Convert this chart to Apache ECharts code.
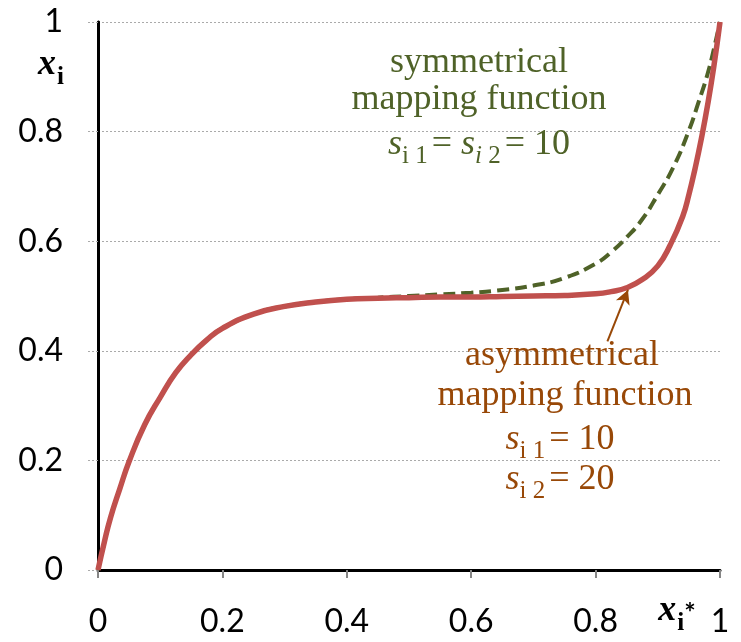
<!DOCTYPE html>
<html>
<head>
<meta charset="utf-8">
<script src="https://cdn.jsdelivr.net/npm/echarts@6/dist/echarts.min.js"></script>
<style>
  html, body { margin: 0; padding: 0; background: #fff; }
  #main { width: 741px; height: 642px; }
</style>
</head>
<body>
<div id="main"></div>
<script>
const xTicks = [0, 0.2, 0.4, 0.6, 0.8, 1];
const yTicks = [0, 0.2, 0.4, 0.6, 0.8, 1];

// asymmetrical mapping function (s_i1 = 10, s_i2 = 20)
const redX = [0, 0.01, 0.02, 0.035, 0.05, 0.075, 0.1, 0.125, 0.15, 0.175, 0.2, 0.25, 0.3, 0.35, 0.4, 0.45, 0.5,
  0.55, 0.6, 0.65, 0.7, 0.75, 0.8, 0.825, 0.85, 0.875, 0.9, 0.92, 0.94, 0.95, 0.96, 0.97, 0.98, 0.99, 1];
const redY = [0, 0.05, 0.095, 0.148, 0.198, 0.265, 0.315, 0.36, 0.393, 0.42, 0.441, 0.467, 0.481, 0.489, 0.494, 0.496, 0.497,
  0.498, 0.498, 0.499, 0.5, 0.501, 0.504, 0.508, 0.515, 0.53, 0.555, 0.593, 0.645, 0.685, 0.733, 0.787, 0.848, 0.918, 1];

// symmetrical mapping function (s_i1 = s_i2 = 10)
const greenX = [0, 0.01, 0.02, 0.035, 0.05, 0.075, 0.1, 0.125, 0.15, 0.175, 0.2, 0.25, 0.3, 0.35, 0.4, 0.45, 0.5,
  0.55, 0.6, 0.65, 0.7, 0.75, 0.8, 0.825, 0.85, 0.875, 0.9, 0.925, 0.95, 0.965, 0.98, 0.99, 1];
const greenY = [0, 0.05, 0.095, 0.148, 0.198, 0.265, 0.315, 0.36, 0.393, 0.42, 0.441, 0.467, 0.481, 0.489, 0.494, 0.497, 0.5,
  0.503, 0.506, 0.511, 0.519, 0.533, 0.559, 0.58, 0.607, 0.64, 0.685, 0.735, 0.802, 0.852, 0.905, 0.95, 1];

const arrowFrom = [0.819, 0.417];
const arrowTo = [0.852, 0.511];

const GREEN = '#4F6228', RED = '#C0504D', BROWN = '#984807';
const SERIF = 'Liberation Serif';
const tickFont = { fontFamily: 'Lato', fontSize: 32, color: '#000' };

// text with sub/superscripts, built from plain text pieces laid side by side
const ctx = document.createElement('canvas').getContext('2d');
// part: [text, size, baseline, italic, bold, family, gapBefore]
function mathText(cx, parts, color) {
  const fontOf = p => (p[3] ? 'italic ' : '') + (p[4] ? 'bold ' : '') + p[1] + 'px "' + (p[5] || SERIF) + '"';
  const widths = parts.map(p => { ctx.font = fontOf(p); return ctx.measureText(p[0]).width; });
  const total = widths.reduce((a, w, i) => a + w + (parts[i][6] || 0), 0);
  let x = cx - total / 2;
  return parts.map((p, i) => {
    x += p[6] || 0;
    const fam = p[5] || SERIF;
    const k = fam === SERIF ? 0.34 : 0.39;
    const el = {
      type: 'text', x: x, y: p[2] - k * p[1], z: 100,
      style: {
        text: p[0], fontFamily: fam, fontSize: p[1],
        fontStyle: p[3] ? 'italic' : 'normal', fontWeight: p[4] ? 'bold' : 'normal',
        fill: color, align: 'left', verticalAlign: 'middle'
      }
    };
    x += widths[i];
    return el;
  });
}

const notes = [].concat(
  mathText(479, [['symmetrical', 36, 75]], GREEN),
  mathText(479, [['mapping function', 36, 112]], GREEN),
  mathText(479, [['s', 36, 157, true], ['i 1', 25, 165], ['= ', 36, 157, false, false, null, 4],
    ['s', 36, 157, true], ['i', 25, 165, true], [' 2', 25, 165], ['= 10', 36, 157, false, false, null, 4]], GREEN),
  mathText(562, [['asymmetrical', 36, 368]], BROWN),
  mathText(565, [['mapping function', 36, 408]], BROWN),
  mathText(560, [['s', 36, 452, true], ['i 1', 25, 460], ['= 10', 36, 452, false, false, null, 4]], BROWN),
  mathText(560, [['s', 36, 492, true], ['i 2', 25, 500], ['= 20', 36, 492, false, false, null, 4]], BROWN),
  mathText(51, [['x', 36, 77, true, true], ['i', 25, 86, false, true, null, 1]], '#000'),
  mathText(677, [['x', 36, 623, true, true], ['i', 25, 632, false, true, null, 1], ['*', 27, 624, false, true, 'Lato', 0]], '#000')
);

const chart = echarts.init(document.getElementById('main'));
chart.setOption({
  animation: false,
  grid: { left: 98, right: 21, top: 22, bottom: 72 },
  xAxis: [{
    type: 'value', min: 0, max: 1, interval: 0.2,
    axisLine: { show: true, lineStyle: { color: '#868686', width: 2 } },
    axisTick: { show: true, length: 8, lineStyle: { color: '#868686', width: 2 } },
    axisLabel: Object.assign({ margin: 36, formatter: v => xTicks.includes(+v.toFixed(1)) ? String(+v.toFixed(1)) : '' }, tickFont),
    splitLine: { show: false }
  }, {
    type: 'value', min: 0, max: 1, position: 'top',
    axisLine: { show: true, lineStyle: { color: '#000', width: 3 } },
    axisTick: { show: false }, axisLabel: { show: false }, splitLine: { show: false }
  }],
  yAxis: [{
    type: 'value', min: 0, max: 1, interval: 0.2,
    axisLine: { show: true, lineStyle: { color: '#333', width: 2.5 } },
    axisTick: { show: true, length: 11, lineStyle: { color: '#aaa', width: 1, type: [2, 2] } },
    axisLabel: Object.assign({ margin: 35, formatter: v => yTicks.includes(+v.toFixed(1)) ? String(+v.toFixed(1)) : '' }, tickFont),
    splitLine: { show: true, lineStyle: { color: '#aaa', width: 1, type: [2, 2] } }
  }, {
    type: 'value', min: 0, max: 1, position: 'right',
    axisLine: { show: true, lineStyle: { color: '#000', width: 3 } },
    axisTick: { show: false }, axisLabel: { show: false }, splitLine: { show: false }
  }],
  series: [{
    type: 'line', name: 'symmetrical',
    data: greenX.map((x, i) => [x, greenY[i]]),
    smooth: true, showSymbol: false, z: 2,
    lineStyle: { color: GREEN, width: 4, type: [12, 6] }
  }, {
    type: 'line', name: 'asymmetrical',
    data: redX.map((x, i) => [x, redY[i]]),
    smooth: true, showSymbol: false, z: 3,
    lineStyle: { color: RED, width: 5.5 },
    markLine: {
      silent: true, symbol: ['none', 'arrow'], symbolSize: [11, 14],
      label: { show: false },
      lineStyle: { color: BROWN, width: 2, type: 'solid' },
      data: [[{ coord: arrowFrom }, { coord: arrowTo }]]
    }
  }],
  graphic: notes
});
</script>
</body>
</html>
